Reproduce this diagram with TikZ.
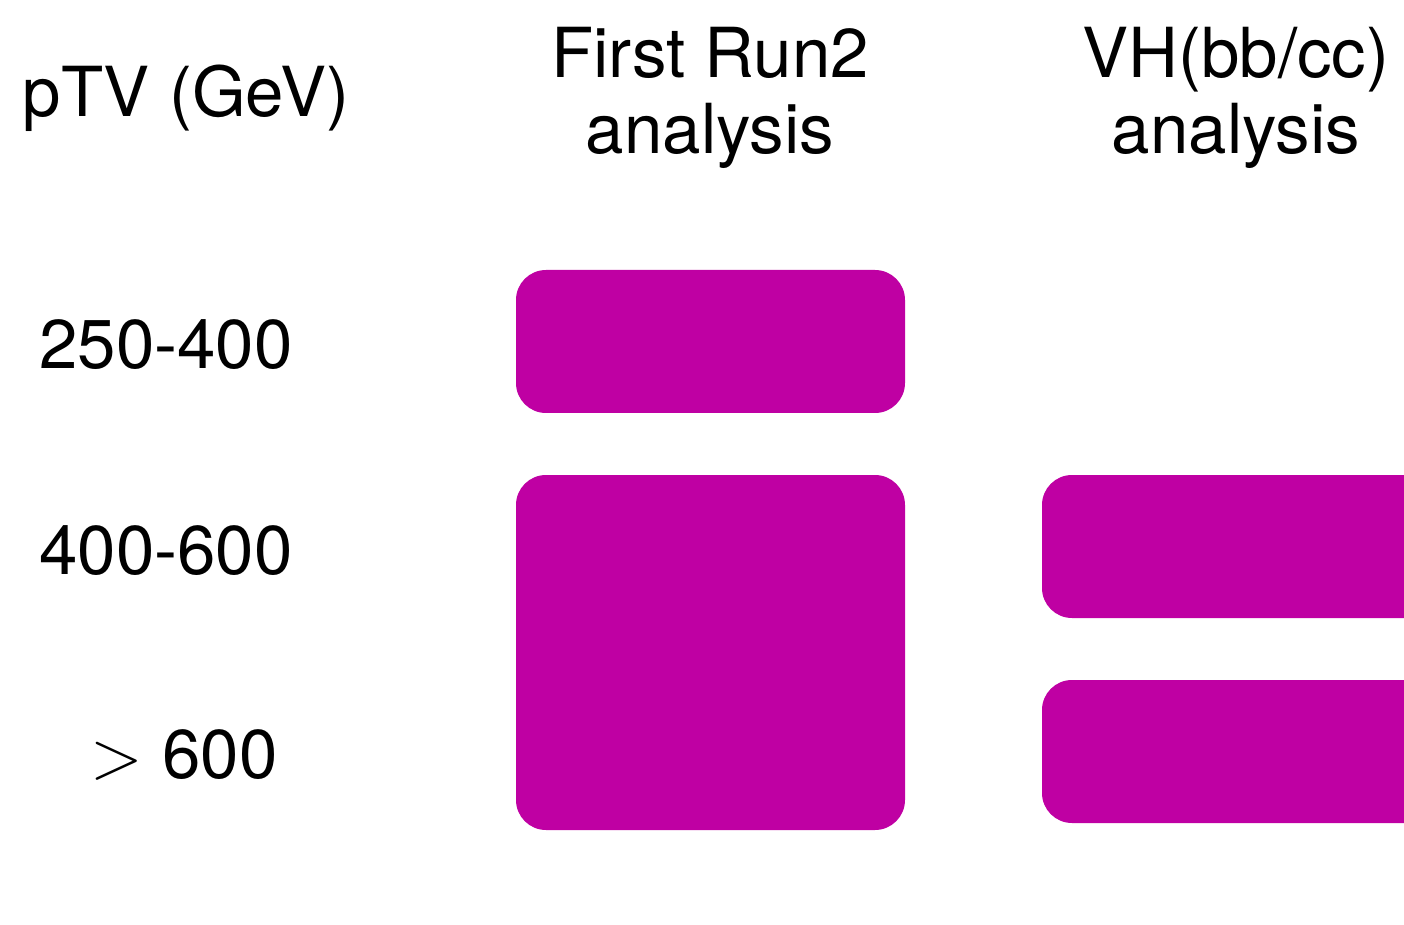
\documentclass[tikz,border=0pt]{standalone}
\usepackage{fix-cm}
\usepackage{fontspec}
\setmainfont{TeX Gyre Heros}
\definecolor{boxmag}{RGB}{191,0,163}
\begin{document}
\begin{tikzpicture}[x=0.5pt,y=-0.5pt,
  lab/.style={anchor=base,inner sep=0pt,font=\fontsize{34.5}{36}\selectfont},
  bar/.style={fill=boxmag,draw=none,rounded corners=15pt}]
\useasboundingbox (0,0) rectangle (1404,925);
\clip (0,0) rectangle (1404,925);
\node[lab] (hdr) at (186,117) {pTV (GeV)};
\node[lab] (c1a) at (710,78) {First Run2};
\node[lab] (c1b) at (710,154) {analysis};
\node[lab] (c2a) at (1236,78) {VH(bb/cc)};
\node[lab] (c2b) at (1236,154) {analysis};
\node[lab] (r1) at (166,369) {250-400};
\node[lab] (r2) at (166,574) {400-600};
\node[lab] (r3) at (184,778) {$>$ 600};
\path[bar] (516,270) rectangle (905,413);
\path[bar] (516,475) rectangle (905,830);
\path[bar] (1042,475) rectangle (1460,618);
\path[bar] (1042,680) rectangle (1460,823);
\end{tikzpicture}
\end{document}
